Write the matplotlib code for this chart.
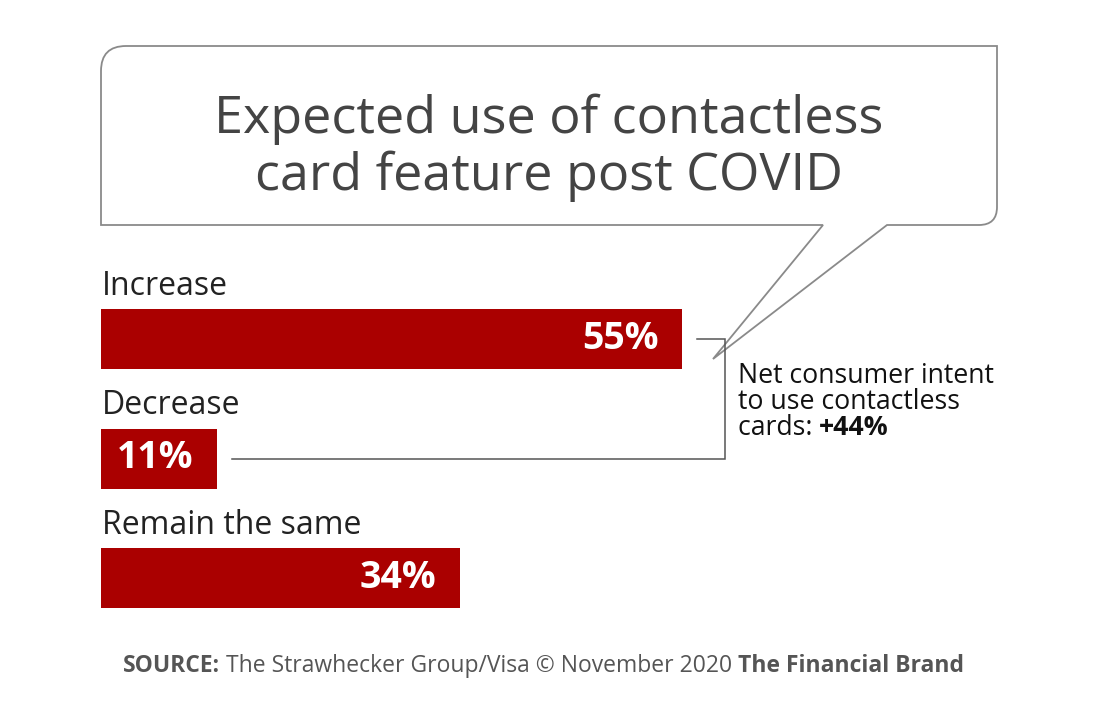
import matplotlib
matplotlib.use("Agg")
import matplotlib.pyplot as plt
from matplotlib.path import Path
from matplotlib.patches import PathPatch

# data
categories = ["Increase", "Decrease", "Remain the same"]
values = [55, 11, 34]
net_value = values[0] - values[1]

title = "Expected use of contactless\ncard feature post COVID"
RED = "#AA0000"
GREY = "#444444"

W, H, DPI = 1100, 711, 100
fig = plt.figure(figsize=(W / DPI, H / DPI), dpi=DPI)
fig.patch.set_facecolor("white")
FONT = ["Open Sans", "DejaVu Sans"]

# overlay axes in pixel coordinates for the speech bubble
ov = fig.add_axes([0, 0, 1, 1])
ov.set_xlim(0, W)
ov.set_ylim(H, 0)
ov.axis("off")

r1, r2 = 25, 18
verts = [
    (101 + r1, 46), (997, 46), (997, 225 - r2), (997, 225), (997 - r2, 225),
    (887, 225), (713, 359), (823, 225), (101, 225), (101, 46 + r1),
    (101, 46), (101 + r1, 46), (101 + r1, 46),
]
codes = [
    Path.MOVETO, Path.LINETO, Path.LINETO, Path.CURVE3, Path.CURVE3,
    Path.LINETO, Path.LINETO, Path.LINETO, Path.LINETO, Path.LINETO,
    Path.CURVE3, Path.CURVE3, Path.CLOSEPOLY,
]
ov.add_patch(PathPatch(Path(verts, codes), facecolor="white",
                       edgecolor="#8a8a8a", lw=1.3))
for i, line in enumerate(title.split("\n")):
    ov.text(549, 133 + 57 * i, line, ha="center", va="baseline", fontsize=37.5,
            color=GREY, family=FONT)

# source line (pieces placed one after another)
pieces = [("SOURCE:", "bold"), (" The Strawhecker Group/Visa © November 2020 ", "normal"),
          ("The Financial Brand", "bold")]
x = 123
for txt, wt in pieces:
    t = ov.annotate(txt, xy=(x, H - 672), xycoords="figure pixels", ha="left",
                    va="baseline", fontsize=16.5, fontweight=wt,
                    color="#555555", family=FONT)
    fig.canvas.draw()
    x = t.get_window_extent().x1

# net intent note
note_lines = ["Net consumer intent", "to use contactless", "cards: "]
for i, line in enumerate(note_lines):
    t = ov.text(738, 383 + 26 * i, line, ha="left", va="baseline",
                fontsize=19.2, color="#111111", family=FONT)
fig.canvas.draw()
ov.annotate(f"+{net_value}%", xy=(t.get_window_extent().x1, H - (383 + 52)),
            xycoords="figure pixels", ha="left", va="baseline", fontsize=19.2,
            fontweight="bold", color="#111111", family=FONT)

# bar axes: 1% = 10.56 px, bars centered at 339, 459, 578 px
px_per = 10.56
step = 119.5
xmax = 90
ax = fig.add_axes([101 / W, (H - (339 + 2.5 * step)) / H,
                   xmax * px_per / W, 3 * step / H])
ax.set_xlim(0, xmax)
ax.set_ylim(2.5, -0.5)
ax.axis("off")
ax.patch.set_alpha(0)

ypos = list(range(len(categories)))
ax.barh(ypos, values, height=60 / step, color=RED)
for y, cat, v in zip(ypos, categories, values):
    ax.text(0.1, y - 44 / step, cat, ha="left", va="baseline", fontsize=23,
            color="#222222", family=FONT)
    ax.annotate(f"{v}%", xy=(v, y), xytext=(-17, 0), textcoords="offset points",
                ha="right", va="center", fontsize=27, fontweight="bold",
                color="white", family=FONT)

# bracket joining increase and decrease bars
bx = (725 - 101) / px_per
gap = 15 / px_per
ax.plot([values[0] + gap, bx, bx, values[1] + gap], [0, 0, 1, 1],
        color="#555555", lw=1.1, solid_joinstyle="miter")

fig.savefig("out.png", dpi=DPI)
